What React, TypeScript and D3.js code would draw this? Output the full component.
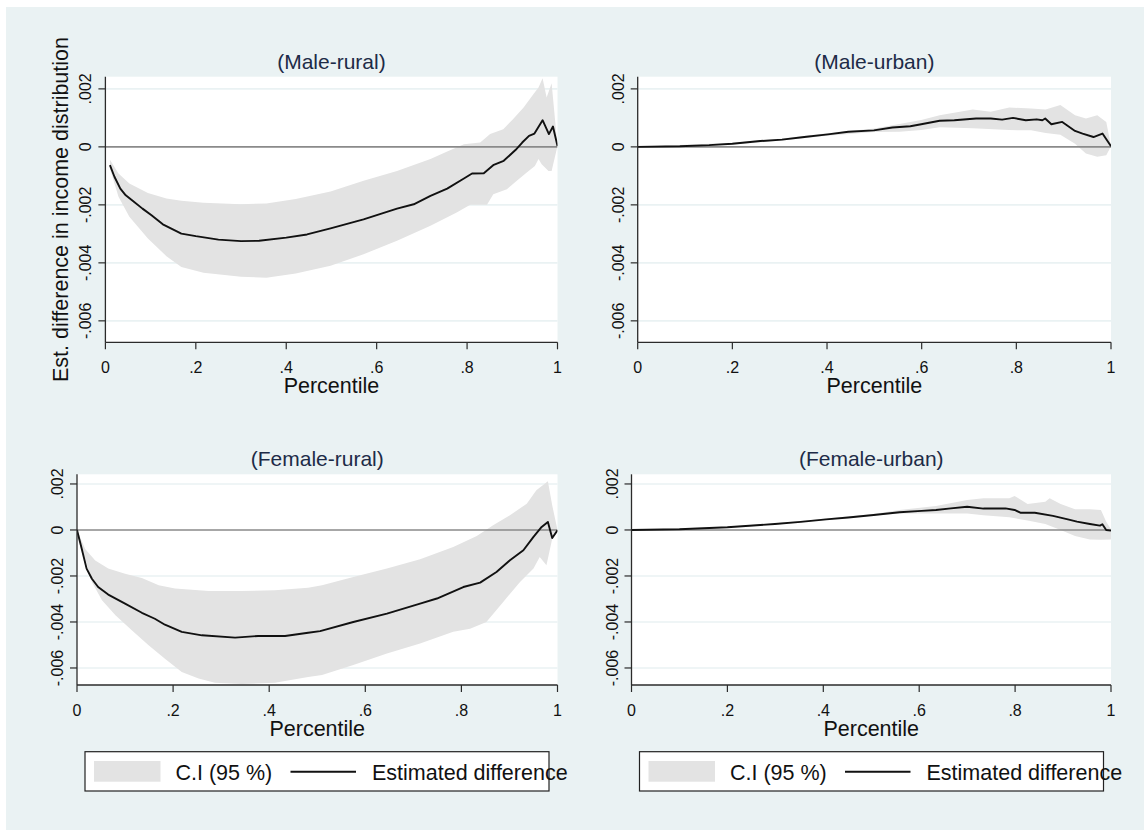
import React from 'react';
import * as d3 from 'd3';

// ---------- axis ticks ----------
const xTicks = [0, 0.2, 0.4, 0.6, 0.8, 1];
const xTickLabels = ['0', '.2', '.4', '.6', '.8', '1'];
const yTicks = [0.002, 0, -0.002, -0.004, -0.006];
const yTickLabels = ['.002', '0', '-.002', '-.004', '-.006'];
const yDomain = [-0.00674, 0.00242];

// ---------- Male-rural ----------
const mrLinePct = [0.01, 0.02, 0.033, 0.045, 0.061, 0.082, 0.102, 0.127, 0.168, 0.2, 0.25, 0.3, 0.34, 0.4, 0.446, 0.498, 0.571, 0.645, 0.682, 0.719, 0.756, 0.793, 0.811, 0.837, 0.859, 0.881, 0.907, 0.922, 0.937, 0.949, 0.967, 0.981, 0.99, 1.0];
const mrLineVal = [-0.00063, -0.00103, -0.00144, -0.00167, -0.00187, -0.00213, -0.00236, -0.00267, -0.00299, -0.00308, -0.0032, -0.00325, -0.00324, -0.00313, -0.00302, -0.00281, -0.0025, -0.00213, -0.00198, -0.00169, -0.00144, -0.00109, -0.00092, -0.00091, -0.00062, -0.00048, -0.00011, 0.00015, 0.00038, 0.00046, 0.00092, 0.00044, 0.0007, 0.00003];
const mrUpPct = [0.01, 0.029, 0.053, 0.094, 0.135, 0.168, 0.217, 0.3, 0.356, 0.421, 0.498, 0.571, 0.645, 0.719, 0.756, 0.793, 0.829, 0.851, 0.88, 0.902, 0.925, 0.947, 0.958, 0.967, 0.976, 0.987, 1.0];
const mrUpVal = [-0.00044, -0.00092, -0.00126, -0.00159, -0.00178, -0.00186, -0.00193, -0.00198, -0.00195, -0.0018, -0.00154, -0.00117, -0.00083, -0.00042, -0.00016, 0.00009, 0.00015, 0.00044, 0.00061, 0.00096, 0.00136, 0.00182, 0.00205, 0.00237, 0.0017, 0.00219, 0.00003];
const mrLoPct = [0.01, 0.029, 0.053, 0.094, 0.135, 0.168, 0.217, 0.3, 0.356, 0.421, 0.498, 0.571, 0.645, 0.719, 0.777, 0.807, 0.844, 0.858, 0.888, 0.91, 0.932, 0.95, 0.958, 0.965, 0.98, 0.987, 1.0];
const mrLoVal = [-0.00075, -0.00172, -0.00241, -0.00316, -0.00377, -0.00414, -0.00434, -0.00448, -0.00451, -0.00437, -0.0041, -0.0037, -0.00324, -0.00272, -0.00226, -0.002, -0.002, -0.00163, -0.00146, -0.00117, -0.00088, -0.00066, -0.00042, -0.0006, -0.00083, -0.00083, 0.00003];

// ---------- Male-urban ----------
const muLinePct = [0, 0.089, 0.151, 0.2, 0.259, 0.305, 0.352, 0.402, 0.445, 0.499, 0.538, 0.576, 0.599, 0.638, 0.669, 0.715, 0.746, 0.77, 0.793, 0.82, 0.843, 0.855, 0.861, 0.874, 0.897, 0.924, 0.94, 0.963, 0.982, 1.0];
const muLineVal = [0, 0.00002, 0.00006, 0.00011, 0.0002, 0.00025, 0.00034, 0.00043, 0.00052, 0.00057, 0.00067, 0.00071, 0.00078, 0.0009, 0.00092, 0.00098, 0.00098, 0.00094, 0.001, 0.00092, 0.00095, 0.00092, 0.00098, 0.00078, 0.00086, 0.00055, 0.00046, 0.00034, 0.00046, 0.00002];
const muUpPct = [0, 0.2, 0.3, 0.4, 0.5, 0.553, 0.599, 0.638, 0.708, 0.746, 0.785, 0.831, 0.862, 0.893, 0.924, 0.947, 0.971, 0.99, 1.0];
const muUpVal = [0, 0.00014, 0.00028, 0.00047, 0.00063, 0.00079, 0.00093, 0.00109, 0.00129, 0.00121, 0.00136, 0.00132, 0.00129, 0.00144, 0.00109, 0.00098, 0.00109, 0.00086, 0.00002];
const muLoPct = [0, 0.2, 0.3, 0.4, 0.5, 0.553, 0.599, 0.638, 0.708, 0.785, 0.831, 0.862, 0.893, 0.924, 0.947, 0.971, 0.99, 1.0];
const muLoVal = [0, 0.00008, 0.00021, 0.00038, 0.00051, 0.00052, 0.00058, 0.00068, 0.00064, 0.00058, 0.00057, 0.00048, 0.00042, 0.00011, -0.00023, -0.00034, -0.00029, 0.00002];

// ---------- Female-rural ----------
const frLinePct = [0, 0.0097, 0.02, 0.031, 0.044, 0.065, 0.1, 0.135, 0.162, 0.183, 0.218, 0.26, 0.329, 0.377, 0.433, 0.481, 0.506, 0.575, 0.645, 0.714, 0.749, 0.804, 0.839, 0.873, 0.901, 0.929, 0.95, 0.967, 0.98, 0.989, 1.0];
const frLineVal = [0, -0.00081, -0.00168, -0.00212, -0.00248, -0.00281, -0.0032, -0.0036, -0.00386, -0.00412, -0.00443, -0.00458, -0.00468, -0.00461, -0.00461, -0.00447, -0.0044, -0.004, -0.00364, -0.0032, -0.00298, -0.00248, -0.00229, -0.00183, -0.00132, -0.00088, -0.0003, 0.00013, 0.00035, -0.00035, -0.00001];
const frUpPct = [0, 0.017, 0.038, 0.065, 0.1, 0.135, 0.17, 0.204, 0.274, 0.343, 0.412, 0.481, 0.51, 0.575, 0.645, 0.714, 0.783, 0.832, 0.866, 0.901, 0.936, 0.956, 0.97, 0.98, 0.989, 1.0];
const frUpVal = [0, -0.00083, -0.00133, -0.00168, -0.0019, -0.00209, -0.0024, -0.00255, -0.00265, -0.00265, -0.00262, -0.00251, -0.0024, -0.00204, -0.00168, -0.00127, -0.00074, -0.00026, 0.0002, 0.00064, 0.00114, 0.00173, 0.00195, 0.00212, 0.00107, 0];
const frLoPct = [0, 0.017, 0.031, 0.052, 0.08, 0.114, 0.149, 0.183, 0.218, 0.253, 0.287, 0.343, 0.412, 0.481, 0.51, 0.575, 0.645, 0.714, 0.783, 0.818, 0.852, 0.887, 0.922, 0.95, 0.963, 0.977, 0.989, 1.0];
const frLoVal = [0, -0.00125, -0.00226, -0.00306, -0.00371, -0.00436, -0.00501, -0.0056, -0.00617, -0.00646, -0.00664, -0.0067, -0.00664, -0.00639, -0.0063, -0.00587, -0.00537, -0.00494, -0.00443, -0.00429, -0.004, -0.00313, -0.00226, -0.00168, -0.00117, -0.00153, -0.00038, 0];

// ---------- Female-urban ----------
const fuLinePct = [0, 0.1, 0.2, 0.299, 0.353, 0.406, 0.452, 0.505, 0.559, 0.605, 0.635, 0.666, 0.7, 0.734, 0.78, 0.799, 0.811, 0.841, 0.879, 0.91, 0.929, 0.956, 0.977, 0.982, 0.99, 1.0];
const fuLineVal = [0, 0.00003, 0.00012, 0.00026, 0.00035, 0.00046, 0.00054, 0.00065, 0.00077, 0.00083, 0.00087, 0.00094, 0.00101, 0.00093, 0.00094, 0.00087, 0.00075, 0.00075, 0.00061, 0.00046, 0.00036, 0.00026, 0.00019, 0.00025, 0, -0.00003];
const fuUpPct = [0, 0.2, 0.3, 0.4, 0.5, 0.559, 0.635, 0.7, 0.734, 0.788, 0.799, 0.826, 0.863, 0.872, 0.895, 0.925, 0.956, 0.979, 0.99, 1.0];
const fuUpVal = [0, 0.00014, 0.00029, 0.00049, 0.00068, 0.00087, 0.00104, 0.0013, 0.00138, 0.00138, 0.00148, 0.00113, 0.00123, 0.00138, 0.00113, 0.0009, 0.0009, 0.00087, 0.00036, 0.00003];
const fuLoPct = [0, 0.2, 0.3, 0.4, 0.5, 0.559, 0.635, 0.7, 0.734, 0.788, 0.826, 0.863, 0.895, 0.925, 0.956, 0.979, 1.0];
const fuLoVal = [0, 0.0001, 0.00023, 0.00043, 0.00062, 0.00072, 0.00072, 0.00072, 0.00064, 0.00055, 0.00041, 0.00026, 0, -0.00026, -0.00041, -0.00043, -0.00041];

const legendLabels = ['C.I (95 %)', 'Estimated difference'];
const yAxisTitle = 'Est. difference in income distribution';
const xAxisTitle = 'Percentile';

// ---------- styling / layout ----------
const FONT = "'Liberation Sans', Arial, Helvetica, sans-serif";
const BG = '#eaf2f3';
const BAND = '#e3e3e3';
const AXIS = '#2b2b2b';
const TITLE_COLOR = '#1d2b47';

type Series = { pct: number[]; val: number[] };
type PanelDef = {
  key: string;
  title: string;
  x0: number; x1: number; y0: number; y1: number;
  line: Series; up: Series; lo: Series;
  yTitle: boolean;
  legendX: number | null;
};

const panels: PanelDef[] = [
  { key: 'mr', title: '(Male-rural)', x0: 105.4, x1: 557.5, y0: 76.7, y1: 342.3,
    line: { pct: mrLinePct, val: mrLineVal }, up: { pct: mrUpPct, val: mrUpVal }, lo: { pct: mrLoPct, val: mrLoVal },
    yTitle: true, legendX: null },
  { key: 'mu', title: '(Male-urban)', x0: 637.7, x1: 1111, y0: 76.7, y1: 342.3,
    line: { pct: muLinePct, val: muLineVal }, up: { pct: muUpPct, val: muUpVal }, lo: { pct: muLoPct, val: muLoVal },
    yTitle: false, legendX: null },
  { key: 'fr', title: '(Female-rural)', x0: 77, x1: 557.5, y0: 474.3, y1: 685,
    line: { pct: frLinePct, val: frLineVal }, up: { pct: frUpPct, val: frUpVal }, lo: { pct: frLoPct, val: frLoVal },
    yTitle: false, legendX: 85 },
  { key: 'fu', title: '(Female-urban)', x0: 631.5, x1: 1111, y0: 474.3, y1: 685,
    line: { pct: fuLinePct, val: fuLineVal }, up: { pct: fuUpPct, val: fuUpVal }, lo: { pct: fuLoPct, val: fuLoVal },
    yTitle: false, legendX: 639.5 },
];

function Panel({ p }: { p: PanelDef }) {
  const x = d3.scaleLinear().domain([0, 1]).range([p.x0, p.x1]);
  const y = d3.scaleLinear().domain(yDomain).range([p.y1, p.y0]);
  const lineGen = d3.line<[number, number]>().x(d => x(d[0])).y(d => y(d[1]));
  const linePts: [number, number][] = p.line.pct.map((q, i) => [q, p.line.val[i]]);
  const upPts: [number, number][] = p.up.pct.map((q, i) => [q, p.up.val[i]]);
  const loPts: [number, number][] = p.lo.pct.map((q, i) => [q, p.lo.val[i]]).reverse() as [number, number][];
  const bandPath = (lineGen([...upPts, ...loPts]) || '') + 'Z';
  const cx = (p.x0 + p.x1) / 2;
  const cy = (p.y0 + p.y1) / 2;
  const clipId = 'clip-' + p.key;
  return (
    <g>
      <defs>
        <clipPath id={clipId}>
          <rect x={p.x0} y={p.y0} width={p.x1 - p.x0} height={p.y1 - p.y0} />
        </clipPath>
      </defs>
      <rect x={p.x0} y={p.y0} width={p.x1 - p.x0} height={p.y1 - p.y0} fill="#ffffff" />
      {yTicks.filter(t => t !== 0).map(t => (
        <line key={'g' + t} x1={p.x0} x2={p.x1} y1={y(t)} y2={y(t)} stroke={BG} strokeWidth={1.6} />
      ))}
      <g clipPath={`url(#${clipId})`}>
        <path d={bandPath} fill={BAND} stroke="none" />
        <line x1={p.x0} x2={p.x1} y1={y(0)} y2={y(0)} stroke="#8a8a8a" strokeWidth={1.6} />
        <path d={lineGen(linePts) || ''} fill="none" stroke="#111" strokeWidth={1.9} strokeLinejoin="round" />
      </g>
      {/* axes */}
      <line x1={p.x0} x2={p.x0} y1={p.y0} y2={p.y1} stroke={AXIS} strokeWidth={1.3} />
      <line x1={p.x0} x2={p.x1} y1={p.y1} y2={p.y1} stroke={AXIS} strokeWidth={1.3} />
      {yTicks.map((t, i) => (
        <g key={'yt' + t}>
          <line x1={p.x0 - 7} x2={p.x0} y1={y(t)} y2={y(t)} stroke={AXIS} strokeWidth={1.2} />
          <text transform={`translate(${p.x0 - 14},${y(t)}) rotate(-90)`} textAnchor="middle"
            fontFamily={FONT} fontSize={16} fill="#111">{yTickLabels[i]}</text>
        </g>
      ))}
      {xTicks.map((t, i) => (
        <g key={'xt' + t}>
          <line x1={x(t)} x2={x(t)} y1={p.y1} y2={p.y1 + 7} stroke={AXIS} strokeWidth={1.2} />
          <text x={x(t)} y={p.y1 + 30.5} textAnchor="middle" fontFamily={FONT} fontSize={16} fill="#111">{xTickLabels[i]}</text>
        </g>
      ))}
      <text x={cx} y={p.y1 + 50.5} textAnchor="middle" fontFamily={FONT} fontSize={21.5} fill="#111">{xAxisTitle}</text>
      <text x={cx} y={p.y0 - 8} textAnchor="middle" fontFamily={FONT} fontSize={21} fill={TITLE_COLOR}>{p.title}</text>
      {p.yTitle && (
        <text transform={`translate(67.5,${cy}) rotate(-90)`} textAnchor="middle" fontFamily={FONT} fontSize={21.5} fill="#111">{yAxisTitle}</text>
      )}
      {p.legendX !== null && (
        <g transform={`translate(${p.legendX},751.7)`}>
          <rect x={0} y={0} width={464} height={39.3} fill="#ffffff" stroke="#222" strokeWidth={1.2} />
          <rect x={9} y={9.3} width={66.5} height={20.7} fill={BAND} />
          <text x={90.5} y={28.3} fontFamily={FONT} fontSize={21.5} fill="#111">{legendLabels[0]}</text>
          <line x1={205.5} x2={271} y1={20} y2={20} stroke="#111" strokeWidth={1.9} />
          <text x={287} y={28.3} fontFamily={FONT} fontSize={21.5} fill="#111">{legendLabels[1]}</text>
        </g>
      )}
    </g>
  );
}

export default function App() {
  return (
    <svg width={1144} height={835} style={{ position: 'absolute', left: 0, top: 0, background: '#ffffff' }}>
      <rect x={6} y={7} width={1138} height={823} fill={BG} />
      {panels.map(p => <Panel key={p.key} p={p} />)}
    </svg>
  );
}
